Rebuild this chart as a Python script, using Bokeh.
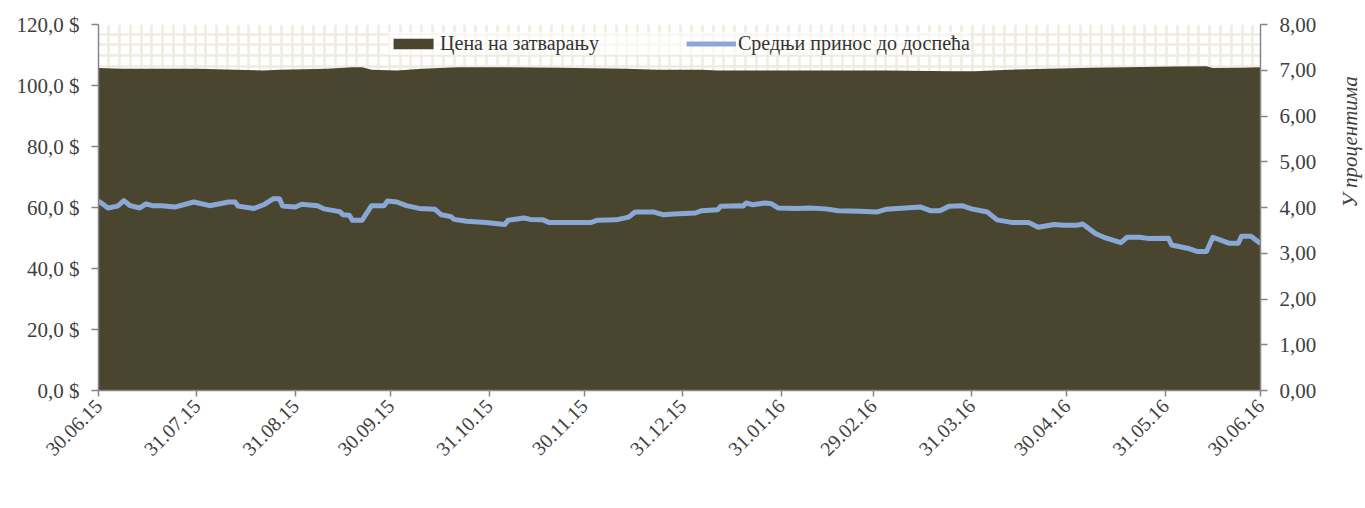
import math
import pandas as pd
from bokeh.plotting import figure
from bokeh.models import (Range1d, LinearAxis, FixedTicker, DatetimeTickFormatter,
                          ColumnDataSource, Legend, LegendItem, SingleIntervalTicker)
from bokeh.embed import file_html
from bokeh.resources import INLINE

# ---------------- data ----------------
price_dates = ["2015-06-30", "2015-07-07", "2015-07-31", "2015-08-21", "2015-08-26",
               "2015-09-10", "2015-09-18", "2015-09-21", "2015-09-24", "2015-10-02",
               "2015-10-10", "2015-10-21", "2015-11-06", "2015-11-22", "2015-12-13",
               "2015-12-23", "2016-01-06", "2016-01-11", "2016-02-01", "2016-03-04",
               "2016-03-25", "2016-04-01", "2016-04-12", "2016-05-08", "2016-06-03",
               "2016-06-13", "2016-06-15", "2016-06-24", "2016-06-30"]
close_price = [105.7, 105.5, 105.5, 104.9, 105.2,
               105.5, 106.0, 106.0, 105.2, 104.9,
               105.5, 106.0, 106.0, 105.8, 105.5,
               105.2, 105.2, 104.9, 104.9, 104.9,
               104.7, 104.7, 105.2, 105.8, 106.2,
               106.3, 105.7, 105.8, 106.0]

yield_dates = ["2015-06-30", "2015-07-03", "2015-07-06", "2015-07-08", "2015-07-10",
               "2015-07-13", "2015-07-15", "2015-07-17", "2015-07-20", "2015-07-24",
               "2015-07-30", "2015-08-04", "2015-08-10", "2015-08-12", "2015-08-13",
               "2015-08-18", "2015-08-21", "2015-08-24", "2015-08-26", "2015-08-27",
               "2015-08-31", "2015-09-02", "2015-09-07", "2015-09-09", "2015-09-14",
               "2015-09-15", "2015-09-17", "2015-09-18", "2015-09-21", "2015-09-24",
               "2015-09-28", "2015-09-29", "2015-10-02", "2015-10-05", "2015-10-09",
               "2015-10-14", "2015-10-16", "2015-10-19", "2015-10-20", "2015-10-24",
               "2015-10-30", "2015-11-05", "2015-11-06", "2015-11-11", "2015-11-13",
               "2015-11-17", "2015-11-19", "2015-11-24", "2015-12-02", "2015-12-04",
               "2015-12-10", "2015-12-14", "2015-12-16", "2015-12-22", "2015-12-25",
               "2015-12-28", "2016-01-04", "2016-01-06", "2016-01-11", "2016-01-12",
               "2016-01-18", "2016-01-19", "2016-01-20", "2016-01-22", "2016-01-26",
               "2016-01-28", "2016-01-30", "2016-02-05", "2016-02-09", "2016-02-14",
               "2016-02-18", "2016-02-25", "2016-03-01", "2016-03-04", "2016-03-15",
               "2016-03-18", "2016-03-21", "2016-03-24", "2016-03-28", "2016-03-31",
               "2016-04-05", "2016-04-08", "2016-04-13", "2016-04-18", "2016-04-21",
               "2016-04-26", "2016-04-29", "2016-05-03", "2016-05-05", "2016-05-09",
               "2016-05-12", "2016-05-17", "2016-05-19", "2016-05-23", "2016-05-26",
               "2016-06-01", "2016-06-02", "2016-06-07", "2016-06-10", "2016-06-13",
               "2016-06-15", "2016-06-20", "2016-06-23", "2016-06-24", "2016-06-27",
               "2016-06-30"]
avg_yield = [4.14, 3.99, 4.03, 4.15, 4.04,
             3.99, 4.08, 4.04, 4.04, 4.01,
             4.12, 4.04, 4.12, 4.12, 4.03,
             3.98, 4.06, 4.19, 4.19, 4.03,
             4.01, 4.07, 4.04, 3.97, 3.91,
             3.84, 3.83, 3.72, 3.72, 4.04,
             4.04, 4.14, 4.12, 4.04, 3.98,
             3.96, 3.84, 3.80, 3.74, 3.70,
             3.67, 3.63, 3.72, 3.77, 3.74,
             3.73, 3.67, 3.67, 3.67, 3.72,
             3.73, 3.79, 3.90, 3.90, 3.84,
             3.86, 3.88, 3.93, 3.95, 4.03,
             4.04, 4.03, 4.10, 4.06, 4.10,
             4.08, 3.99, 3.98, 3.99, 3.97,
             3.93, 3.92, 3.90, 3.96, 4.01,
             3.93, 3.93, 4.03, 4.04, 3.97,
             3.90, 3.73, 3.67, 3.67, 3.57,
             3.63, 3.61, 3.61, 3.64, 3.43,
             3.34, 3.23, 3.35, 3.35, 3.32,
             3.33, 3.18, 3.11, 3.04, 3.04,
             3.35, 3.22, 3.22, 3.37, 3.37,
             3.21]

tick_dates = ["2015-06-30", "2015-07-31", "2015-08-31", "2015-09-30", "2015-10-31",
              "2015-11-30", "2015-12-31", "2016-01-31", "2016-02-29", "2016-03-31",
              "2016-04-30", "2016-05-31", "2016-06-30"]
price_ticks = [0, 20, 40, 60, 80, 100, 120]
price_labels = ["0,0 $", "20,0 $", "40,0 $", "60,0 $", "80,0 $", "100,0 $", "120,0 $"]
yield_ticks = [0, 1, 2, 3, 4, 5, 6, 7, 8]
yield_labels = ["0,00", "1,00", "2,00", "3,00", "4,00", "5,00", "6,00", "7,00", "8,00"]

series_names = ["Цена на затварању", "Средњи принос до доспећа"]
right_title = "У процентима"

# ---------------- build ----------------
FONT = "Liberation Serif"
TXT = "#404040"
AXC = "#868686"

epoch = pd.Timestamp("1970-01-01")
def to_ms(lst):
    return [int((pd.Timestamp(d) - epoch) / pd.Timedelta(milliseconds=1)) for d in lst]

price_src = ColumnDataSource(dict(date=pd.to_datetime(price_dates), price=close_price))
yield_src = ColumnDataSource(dict(date=pd.to_datetime(yield_dates), yld=avg_yield))

x0, x1 = pd.Timestamp(tick_dates[0]), pd.Timestamp(tick_dates[-1])

p = figure(frame_width=1162, frame_height=366, x_axis_type="datetime",
           x_range=Range1d(x0, x1), y_range=Range1d(0, 120),
           output_backend="svg", toolbar_location=None,
           min_border_left=98, min_border_right=90, min_border_top=24,
           min_border_bottom=10)
p.outline_line_color = None
p.background_fill_color = "white"
p.border_fill_color = "white"
p.extra_y_ranges = {"yld": Range1d(0, 8)}

# patterned background (light grid)
p.xgrid.ticker = SingleIntervalTicker(interval=3.4 * 86400000)
p.ygrid.ticker = SingleIntervalTicker(interval=3.54)
for g in (p.xgrid[0], p.ygrid[0]):
    g.grid_line_color = "#EEECE1"
    g.grid_line_width = 2.5

area = p.varea(x="date", y1=0, y2="price", source=price_src, fill_color="#4A452F")
line = p.line(x="date", y="yld", source=yield_src, y_range_name="yld",
              line_color="#8AA8D6", line_width=5, line_join="round")

# axes
xa = p.xaxis[0]
xa.ticker = FixedTicker(ticks=to_ms(tick_dates))
fmt = "%d.%m.%y"
xa.formatter = DatetimeTickFormatter(microseconds=fmt, milliseconds=fmt, seconds=fmt,
                                     minsec=fmt, minutes=fmt, hourmin=fmt, hours=fmt,
                                     days=fmt, months=fmt, years=fmt)
xa.major_label_orientation = math.pi / 4

ya = p.yaxis[0]
ya.ticker = FixedTicker(ticks=price_ticks)
ya.major_label_overrides = {t: l for t, l in zip(price_ticks, price_labels)}

ra = LinearAxis(y_range_name="yld", ticker=FixedTicker(ticks=yield_ticks))
ra.major_label_overrides = {t: l for t, l in zip(yield_ticks, yield_labels)}
ra.axis_label = right_title
ra.axis_label_text_font = FONT
ra.axis_label_text_font_style = "italic"
ra.axis_label_text_font_size = "21px"
ra.axis_label_text_color = TXT
ra.axis_label_standoff = 31
try:
    ra.axis_label_orientation = math.pi / 2
except Exception:
    pass
p.add_layout(ra, "right")

for ax in (xa, ya, ra):
    ax.axis_line_color = AXC
    ax.axis_line_width = 1.5
    ax.major_tick_line_color = AXC
    ax.major_tick_line_width = 1.5
    ax.major_tick_out = 7
    ax.major_tick_in = 0
    ax.minor_tick_line_color = None
    ax.major_label_text_font = FONT
    ax.major_label_text_font_size = "21px"
    ax.major_label_text_color = TXT
    ax.major_label_standoff = 12
xa.major_label_text_font_size = "20px"
xa.major_label_standoff = 6
xa.major_tick_out = 6

# legend kept inside the empty upper band of the plot so it stays on screen
legend = Legend(items=[LegendItem(label=series_names[0], renderers=[area]),
                       LegendItem(label=series_names[1], renderers=[line])],
                orientation="horizontal", location="top_center",
                glyph_width=50, glyph_height=13, spacing=87, label_standoff=2,
                padding=2, margin=8, border_line_color=None,
                background_fill_color="white", background_fill_alpha=0.6,
                label_text_font=FONT, label_text_font_size="20px",
                label_text_color="#333333")
p.add_layout(legend, "center")

open("out.html", "w").write(file_html(p, INLINE))
